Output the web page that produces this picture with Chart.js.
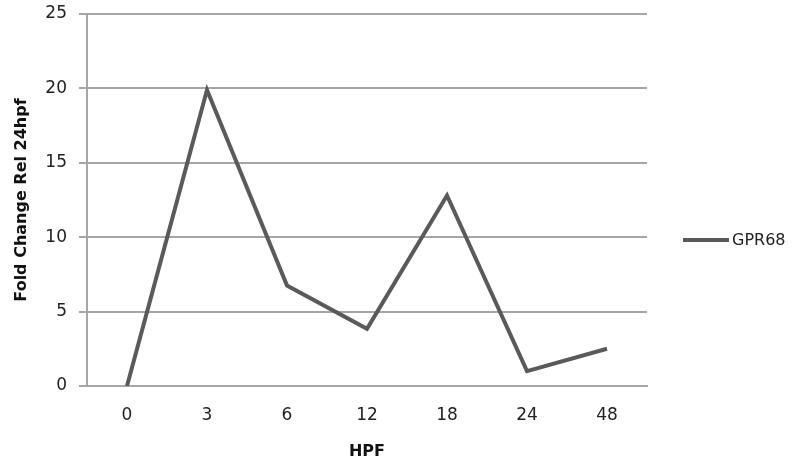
<!DOCTYPE html>
<html>
<head>
<meta charset="utf-8">
<script src="https://cdn.jsdelivr.net/npm/chart.js@4/dist/chart.umd.min.js"></script>
<style>
html,body{margin:0;padding:0;background:#fff;}
#wrap{position:relative;width:796px;height:463px;}
#legend{position:absolute;left:683px;top:230px;font-family:"DejaVu Sans",sans-serif;font-size:16px;color:#222;display:flex;align-items:center;}
#legend .sw{display:inline-block;width:46px;height:4px;background:#5a5a5a;margin-right:3px;}
</style>
</head>
<body>
<div id="wrap">
<canvas id="c" width="796" height="463"></canvas>
<div id="legend"><span class="sw"></span><span id="lt"></span></div>
</div>
<script>
const categories = ["0", "3", "6", "12", "18", "24", "48"];
const seriesName = "GPR68";
const values = [0, 19.9, 6.75, 3.85, 12.8, 1.0, 2.5];
const yTicks = [0, 5, 10, 15, 20, 25];

document.getElementById('lt').textContent = seriesName;

const ctx = document.getElementById('c').getContext('2d');
new Chart(ctx, {
  type: 'line',
  data: {
    labels: categories,
    datasets: [{
      label: seriesName,
      data: values,
      borderColor: '#5a5a5a',
      borderWidth: 4,
      pointRadius: 0,
      tension: 0,
      fill: false
    }]
  },
  options: {
    responsive: false,
    animation: false,
    layout: { padding: { top: 14, right: 149, left: 0, bottom: 0 } },
    plugins: { legend: { display: false }, tooltip: { enabled: false } },
    scales: {
      x: {
        offset: true,
        grid: { display: false, drawTicks: false },
        border: { display: true, color: '#a6a6a6', width: 2 },
        ticks: { color: '#222', padding: 19, font: { family: 'DejaVu Sans', size: 17 } },
        title: { display: true, text: 'HPF', color: '#111', font: { family: 'DejaVu Sans', size: 16, weight: 'bold' }, padding: { top: 8, bottom: 2 } },
        afterFit: s => { s.height = 463 - 386; s.paddingLeft = 0; s.paddingRight = 0; }
      },
      y: {
        min: 0, max: 25,
        afterBuildTicks: s => { s.ticks = yTicks.map(v => ({ value: v })); },
        grid: { color: '#a6a6a6', lineWidth: 2, tickLength: 8, drawTicks: true },
        border: { display: true, color: '#a6a6a6', width: 2 },
        ticks: { color: '#222', padding: 12, font: { family: 'DejaVu Sans', size: 17 } },
        title: { display: true, text: 'Fold Change Rel 24hpf', color: '#111', font: { family: 'DejaVu Sans', size: 16, weight: 'bold' }, padding: { top: 12, bottom: 0 } },
        afterFit: s => { s.width = 87; s.paddingTop = 0; s.paddingBottom = 0; }
      }
    }
  }
});
</script>
</body>
</html>
